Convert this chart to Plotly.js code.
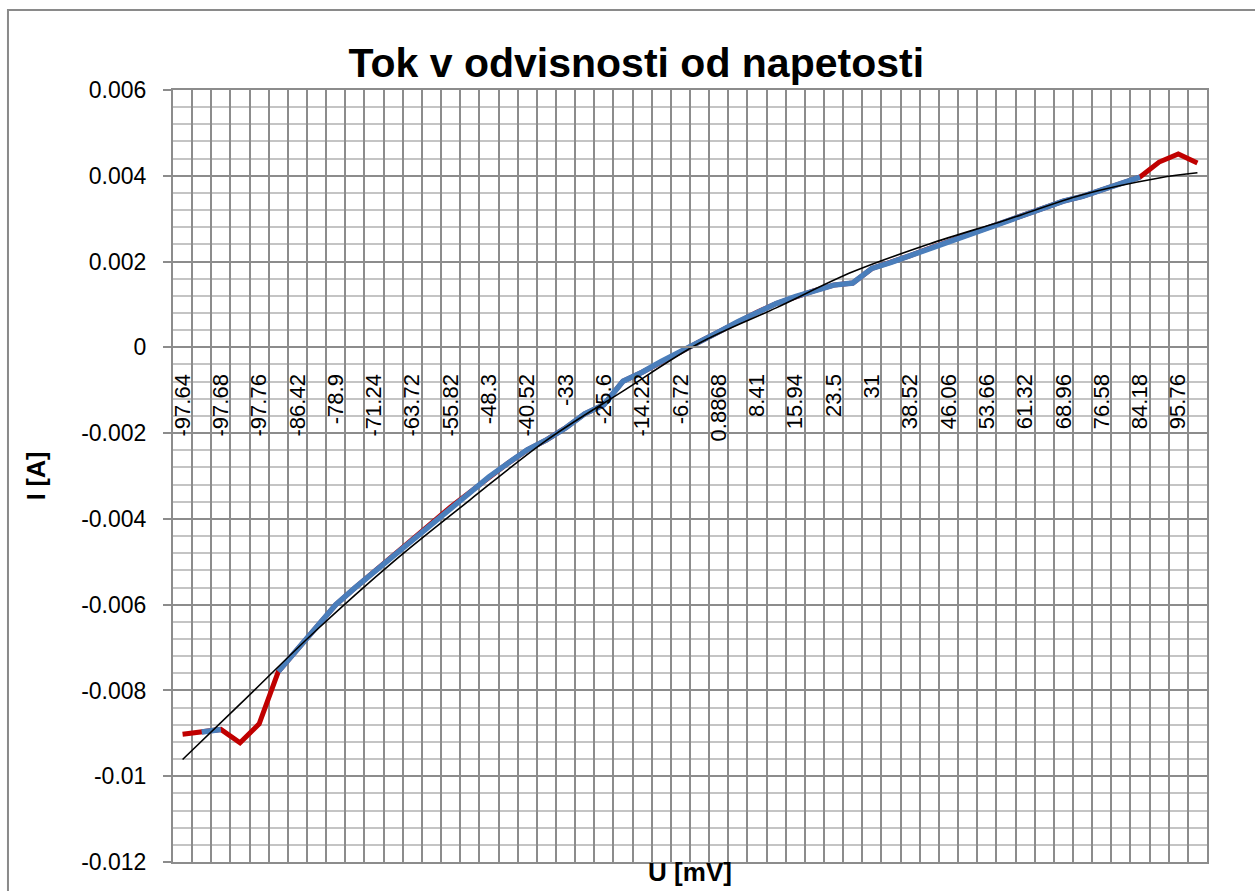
<!DOCTYPE html>
<html>
<head>
<meta charset="utf-8">
<script src="https://cdn.plot.ly/plotly-3.0.1.min.js"></script>
<style>
html,body{margin:0;padding:0;background:#fff;}
#chart{width:1255px;height:891px;}
</style>
</head>
<body>
<div id="chart"></div>
<script>
// U [mV] labels shown on the category axis (every other category)
const uLabels = ["-97.64","-97.68","-97.76","-86.42","-78.9","-71.24","-63.72","-55.82","-48.3",
  "-40.52","-33","-25.6","-14.22","-6.72","0.8868","8.41","15.94","23.5","31","38.52",
  "46.06","53.66","61.32","68.96","76.58","84.18","95.76"];

// measured current I [A], one value per category (54 points)
const currentA = [
  -0.00902, -0.00897, -0.00891, -0.00922, -0.00878, -0.00756, -0.00705, -0.00652, -0.00600, -0.00561,
  -0.00524, -0.00487, -0.00447, -0.00410, -0.00372, -0.00337, -0.00302, -0.00270, -0.00239, -0.00216,
  -0.00188, -0.00155, -0.00134, -0.00079, -0.00058, -0.00033, -0.00011,  0.00013,  0.00036,  0.00060,
   0.00082,  0.00102,  0.00118,  0.00132,  0.00145,  0.00150,  0.00184,  0.00198,  0.00214,  0.00231,
   0.00247,  0.00263,  0.00280,  0.00295,  0.00311,  0.00327,  0.00341,  0.00352,  0.00366,  0.00383,
   0.00397,  0.00432,  0.00451,  0.00430
];

// categories (1-based) left out of the blue "valid" series
const excludedPoints = [1, 4, 5, 52, 53, 54];

// trendline at some categories
const trendCats = [1, 4, 8, 12, 16, 20, 24, 28, 32, 36, 40, 44, 48, 52, 54];
const trendVals = [-0.00961, -0.00832, -0.00659, -0.00500, -0.00356, -0.00217, -0.00102, 0.00010,
  0.00092, 0.00176, 0.00241, 0.00297, 0.00356, 0.00395, 0.00407];

// y axis tick labels
const yTickVals = [-0.012, -0.010, -0.008, -0.006, -0.004, -0.002, 0, 0.002, 0.004, 0.006];
const yTickText = ["-0.012", "-0.01", "-0.008", "-0.006", "-0.004", "-0.002", "0", "0.002", "0.004", "0.006"];

const cats = currentA.map((_, i) => i + 1);
const validA = currentA.map((v, i) => excludedPoints.includes(i + 1) ? null : v);
const labelPos = uLabels.map((_, i) => 2 * i + 1);
const boundaries = [];
for (let i = 0; i <= currentA.length; i++) boundaries.push(i + 0.5);

const FONT = "Liberation Sans, Arial, sans-serif";
const GRID = "#8c8c8c";
const xRange = [0.5, currentA.length + 0.5];

const traces = [
  {x: cats, y: currentA, type: "scatter", mode: "lines", xaxis: "x", yaxis: "y",
   line: {color: "#c00000", width: 5}, hoverinfo: "skip", showlegend: false},
  {x: cats, y: validA, type: "scatter", mode: "lines", connectgaps: false, xaxis: "x2", yaxis: "y",
   line: {color: "#4a7ebb", width: 5.5}, hoverinfo: "skip", showlegend: false},
  {x: trendCats, y: trendVals, type: "scatter", mode: "lines", xaxis: "x2", yaxis: "y",
   line: {color: "#000000", width: 1.6, shape: "spline", smoothing: 1}, hoverinfo: "skip", showlegend: false}
];

const layout = {
  width: 1255, height: 891,
  margin: {l: 173, r: 48, t: 90, b: 29, pad: 0},
  paper_bgcolor: "#ffffff", plot_bgcolor: "#ffffff",
  showlegend: false,
  font: {family: FONT, color: "#000"},
  title: {text: "Tok v odvisnosti od napetosti", font: {family: FONT, size: 41, weight: "bold", color: "#000"},
          x: 0.507, xanchor: "center", xref: "container", y: 0.93, yanchor: "middle", yref: "container"},
  // grid axis (category boundaries) at the bottom of the plot
  xaxis: {
    range: xRange, anchor: "y", side: "bottom",
    tickmode: "array", tickvals: boundaries, showticklabels: false, ticks: "",
    showgrid: true, gridcolor: GRID, gridwidth: 2,
    zeroline: false, showline: true, mirror: true, linecolor: GRID, linewidth: 2,
    title: {text: "U [mV]", font: {family: FONT, size: 26, weight: "bold", color: "#000"}, standoff: 0}
  },
  // label axis crossing at I = 0
  xaxis2: {
    range: xRange, overlaying: "x",
    anchor: "free", position: 2 / 3, side: "bottom",
    tickmode: "array", tickvals: labelPos, ticktext: uLabels,
    tickangle: -90, ticks: "", ticklabelstandoff: 17,
    tickfont: {family: FONT, size: 22, color: "#000"},
    showgrid: false, zeroline: false,
    showline: true, linecolor: GRID, linewidth: 2
  },
  yaxis: {
    range: [-0.012, 0.006],
    tickmode: "array", tickvals: yTickVals, ticktext: yTickText,
    ticks: "outside", ticklen: 8, tickwidth: 2, tickcolor: GRID, ticklabelstandoff: 12,
    tickfont: {family: FONT, size: 23, color: "#000"},
    showgrid: true, gridcolor: GRID, gridwidth: 2,
    minor: {tick0: 0, dtick: 0.0004, showgrid: true, gridcolor: "#c4c4c4", gridwidth: 2, ticks: ""},
    zeroline: false, showline: true, mirror: true, linecolor: GRID, linewidth: 2,
    title: {text: "I [A]", font: {family: FONT, size: 25, weight: "bold", color: "#000"}, standoff: 28}
  },
  shapes: [
    {type: "rect", xref: "paper", yref: "paper", x0: -0.1596, x1: 1.2, y0: -0.2, y1: 1.1036,
     line: {color: "#8a8a8a", width: 2}, fillcolor: "rgba(0,0,0,0)", layer: "below"}
  ]
};

Plotly.newPlot("chart", traces, layout, {staticPlot: true, displayModeBar: false});
</script>
</body>
</html>
